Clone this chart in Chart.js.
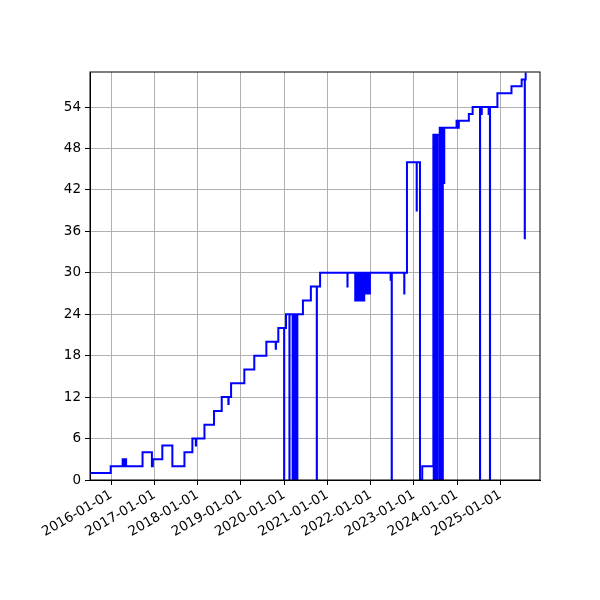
<!DOCTYPE html>
<html lang="en">
<head>
  <meta charset="UTF-8">
  <title>Step chart</title>
  <script src="https://cdn.jsdelivr.net/npm/chart.js"></script>
  <style>
    body { margin: 0; background: #fff; }
  </style>
</head>
<body>
  <canvas id="chart" width="600" height="600"></canvas>
  <script>
    // change dates and the value that holds from each date on
    const dates = [
      '2015-07-06', '2015-12-28', '2016-04-07', '2016-04-18', '2016-04-20', '2016-05-06',
      '2016-09-22', '2016-12-10', '2016-12-18', '2017-03-08', '2017-06-01', '2017-09-11',
      '2017-11-17', '2017-12-16', '2017-12-18', '2018-02-27', '2018-05-19', '2018-07-23',
      '2018-09-17', '2018-09-19', '2018-10-10', '2019-01-30', '2019-04-24', '2019-08-04',
      '2019-10-22', '2019-10-24', '2019-11-13', '2020-01-01', '2020-01-02', '2020-01-17',
      '2020-02-15', '2020-02-16', '2020-03-13', '2020-03-14', '2020-03-26', '2020-03-27',
      '2020-04-08', '2020-04-09', '2020-04-21', '2020-04-22', '2020-06-08', '2020-08-14',
      '2020-10-03', '2020-10-04', '2020-10-31', '2021-06-19', '2021-06-20',
      '2021-08-24', '2021-08-27', '2021-08-31', '2021-09-03', '2021-09-15', '2021-09-18',
      '2021-09-22', '2021-09-25', '2021-10-08', '2021-10-11', '2021-10-15', '2021-10-18',
      '2021-10-22', '2021-10-25', '2021-10-29', '2021-11-01', '2021-11-05', '2021-11-08',
      '2021-11-12', '2021-11-15', '2021-11-22', '2021-11-25', '2021-12-02', '2021-12-05',
      '2021-12-12', '2021-12-15', '2021-12-22', '2021-12-26',
      '2022-06-19', '2022-06-20', '2022-06-28', '2022-06-29', '2022-10-12', '2022-10-13',
      '2022-11-04', '2023-01-25', '2023-01-26', '2023-02-22', '2023-03-13',
      '2023-06-15', '2023-06-18', '2023-06-21', '2023-06-25', '2023-06-28', '2023-07-02',
      '2023-07-05', '2023-07-09', '2023-07-12', '2023-07-16', '2023-07-19',
      '2023-08-06', '2023-08-08', '2023-08-11', '2023-08-14', '2023-08-17', '2023-08-20',
      '2023-08-24', '2023-08-27', '2023-08-31', '2023-09-03', '2023-09-14', '2023-09-15',
      '2023-12-28', '2024-01-05', '2024-01-06', '2024-01-15', '2024-01-16',
      '2024-04-10', '2024-05-12', '2024-07-13', '2024-07-14', '2024-07-27', '2024-07-28',
      '2024-09-24', '2024-09-25', '2024-10-05', '2024-10-06', '2024-12-07',
      '2025-04-05', '2025-06-30', '2025-07-26', '2025-07-27', '2025-08-03'
    ];
    const values = [
      1, 2, 3, 2, 3, 2,
      4, 2, 3, 5, 2, 4,
      6, 5, 6, 8, 10, 12,
      11, 12, 14, 16, 18, 20,
      19, 20, 22, 0, 22, 24,
      0, 24, 0, 24, 0, 24,
      0, 24, 0, 24, 26, 28,
      0, 28, 30, 28, 30,
      26, 30, 26, 30, 26, 30,
      26, 30, 26, 30, 26, 30,
      26, 30, 27, 30, 26, 30,
      27, 30, 27, 30, 27, 30,
      27, 30, 27, 30,
      29, 30, 0, 30, 27, 30,
      46, 39, 46, 0, 2,
      50, 0, 50, 0, 50, 0,
      50, 0, 50, 0, 50,
      0, 51, 0, 51, 0, 51,
      0, 51, 0, 51, 43, 51,
      52, 51, 52, 51, 52,
      53, 54, 0, 54, 53, 54,
      53, 54, 0, 54, 56,
      57, 58, 35, 58, 59
    ];
    const yearTicks = [2016, 2017, 2018, 2019, 2020, 2021, 2022, 2023, 2024, 2025];
    const yTicks = [0, 6, 12, 18, 24, 30, 36, 42, 48, 54];

    const ms = s => Date.parse(s + 'T00:00:00Z');
    const points = dates.map((d, i) => ({ x: ms(d), y: values[i] }));
    const pad = n => String(n).padStart(2, '0');
    const fmt = v => {
      const d = new Date(v);
      return d.getUTCFullYear() + '-' + pad(d.getUTCMonth() + 1) + '-' + pad(d.getUTCDate());
    };

    const frame = {
      id: 'frame',
      afterDatasetsDraw(chart) {
        const a = chart.chartArea, c = chart.ctx;
        c.save();
        c.strokeStyle = '#000';
        c.lineWidth = 1;
        c.strokeRect(a.left, a.top, a.right - a.left, a.bottom - a.top);
        c.restore();
      }
    };

    const font = { family: 'DejaVu Sans', size: 13.5 };

    new Chart(document.getElementById('chart').getContext('2d'), {
      type: 'line',
      data: {
        datasets: [{
          data: points,
          borderColor: '#0000ff',
          borderWidth: 2,
          stepped: true,
          pointRadius: 0,
          fill: false
        }]
      },
      options: {
        responsive: false,
        animation: false,
        layout: { padding: { top: 72, right: 60, left: 0, bottom: 0 } },
        plugins: { legend: { display: false }, tooltip: { enabled: false } },
        scales: {
          x: {
            type: 'linear',
            min: ms('2015-07-06'),
            max: ms('2025-12-02'),
            afterBuildTicks: s => { s.ticks = yearTicks.map(y => ({ value: Date.UTC(y, 0, 1) })); },
            afterFit: s => { s.height = 120; },
            grid: { color: '#b0b0b0', lineWidth: 1, tickColor: '#000', tickLength: 5 },
            border: { color: '#000', width: 1 },
            ticks: {
              autoSkip: false, minRotation: 30, maxRotation: 30,
              color: '#000', font, padding: 2,
              callback: v => fmt(v)
            }
          },
          y: {
            min: 0,
            max: 59.07,
            afterBuildTicks: s => { s.ticks = yTicks.map(v => ({ value: v })); },
            afterFit: s => { s.width = 90; },
            grid: { color: '#b0b0b0', lineWidth: 1, tickColor: '#000', tickLength: 5 },
            border: { color: '#000', width: 1 },
            ticks: { color: '#000', font, padding: 4 }
          }
        }
      },
      plugins: [frame]
    });
  </script>
</body>
</html>
